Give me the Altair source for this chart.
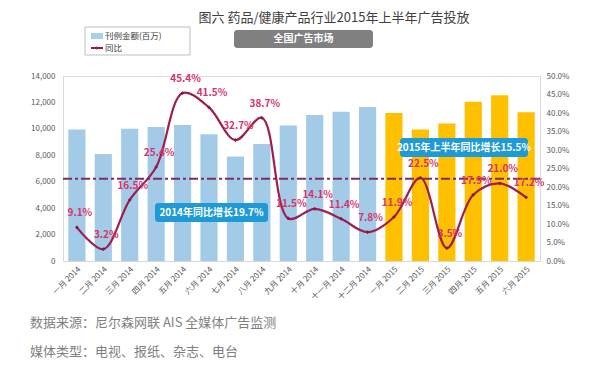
import altair as alt
import pandas as pd

months = ["一月 2014", "二月 2014", "三月 2014", "四月 2014", "五月 2014", "六月 2014",
          "七月 2014", "八月 2014", "九月 2014", "十月 2014", "十一月 2014", "十二月 2014",
          "一月 2015", "二月 2015", "三月 2015", "四月 2015", "五月 2015", "六月 2015"]
year = ["2014"] * 12 + ["2015"] * 6
amount = [9950, 8100, 10000, 10150, 10300, 9600, 7900, 8850, 10250, 11050, 11300, 11650,
          11200, 9950, 10400, 12050, 12550, 11250]
yoy = [0.091, 0.032, 0.165, 0.254, 0.454, 0.415, 0.327, 0.387, 0.115, 0.141, 0.114, 0.078,
       0.119, 0.225, 0.035, 0.179, 0.210, 0.172]
yoy_labels = ["9.1%", "3.2%", "16.5%", "25.4%", "45.4%", "41.5%", "32.7%", "38.7%", "11.5%",
              "14.1%", "11.4%", "7.8%", "11.9%", "22.5%", "3.5%", "17.9%", "21.0%", "17.2%"]
ref_level = 0.222

df = pd.DataFrame({"month": months, "year": year, "amount": amount, "yoy": yoy, "label": yoy_labels})
one = pd.DataFrame({"a": [0]})

FONT = "Noto Sans CJK SC"
xenc = alt.X("month:N", sort=months, title=None,
             scale=alt.Scale(paddingInner=0.35, paddingOuter=0.2),
             axis=alt.Axis(labelAngle=-45, labelFontSize=8, labelColor="#595959", ticks=False,
                           domainColor="#D9D9D9", labelFont=FONT, labelPadding=4))

bars = alt.Chart(df).mark_bar().encode(
    x=xenc,
    y=alt.Y("amount:Q", title=None,
            scale=alt.Scale(domain=[0, 14000]),
            axis=alt.Axis(values=list(range(0, 14001, 2000)), grid=False, ticks=False,
                          labelFontSize=8, labelColor="#595959", domainColor="#D9D9D9",
                          labelPadding=8, labelFont=FONT)),
    color=alt.Color("year:N", scale=alt.Scale(domain=["2014", "2015"], range=["#A3CBE8", "#FFC000"]),
                    legend=None),
)

yr = alt.Y("yoy:Q", title=None,
           scale=alt.Scale(domain=[0, 0.5]),
           axis=alt.Axis(orient="right", format=".1%", values=[i * 0.05 for i in range(11)],
                         grid=False, ticks=False, labelFontSize=8, labelColor="#595959",
                         domainColor="#D9D9D9", labelPadding=6, labelFont=FONT))

ref = alt.Chart(pd.DataFrame({"yoy": [ref_level]})).mark_rule(
    color="#7A2E63", strokeWidth=2, strokeDash=[9, 3, 3, 3]).encode(y=yr)

line = alt.Chart(df).mark_line(interpolate="catmull-rom", color="#9E1F4F", strokeWidth=2.2).encode(
    x=xenc, y=yr)
pts = alt.Chart(df).mark_point(shape="diamond", filled=True, size=14, color="#8E1444", opacity=1).encode(
    x=xenc, y=yr)
labels = alt.Chart(df).mark_text(font=FONT, fontSize=10, fontWeight="bold", color="#D6336C",
                                 dy=-14, dx=3).encode(x=xenc, y=yr, text="label:N")

right = alt.layer(ref, line, pts, labels)

def rect(x, x2, y, y2, **kw):
    return alt.Chart(one).mark_rect(**kw).encode(
        x=alt.value(x), x2=alt.value(x2), y=alt.value(y), y2=alt.value(y2))

def txt(x, y, s, **kw):
    return alt.Chart(one).mark_text(text=s, font=FONT, **kw).encode(x=alt.value(x), y=alt.value(y))

annots = [
    txt(271, -58, "图六 药品/健康产品行业2015年上半年广告投放", fontSize=13, color="#404040"),
    rect(22, 127, -49, -21, fill="white", stroke="#BFBFBF", strokeWidth=1),
    rect(28, 40, -43, -37, fill="#A9CFEA"),
    txt(42, -40, "刊例金额(百万)", fontSize=8.5, color="#404040", align="left"),
    alt.Chart(one).mark_rule(color="#A0174B", strokeWidth=2).encode(
        x=alt.value(28), x2=alt.value(40), y=alt.value(-28)),
    alt.Chart(one).mark_point(shape="diamond", filled=True, size=14, color="#A0174B", opacity=1).encode(
        x=alt.value(34), y=alt.value(-28)),
    txt(42, -28, "同比", fontSize=8.5, color="#404040", align="left"),
    rect(171, 310, -46, -28, fill="#808080", cornerRadius=3),
    txt(240.5, -37, "全国广告市场", fontSize=10, fontWeight="bold", color="white"),
    rect(92, 205, 127, 146, fill="#1E9AD6", cornerRadius=3),
    txt(148.5, 136.5, "2014年同比增长19.7%", fontSize=10, fontWeight="bold", color="white"),
    rect(337, 465, 62, 81, fill="#1E9AD6", cornerRadius=3),
    txt(401, 71.5, "2015年上半年同比增长15.5%", fontSize=10, fontWeight="bold", color="white"),
    txt(-33, 247, "数据来源：尼尔森网联 AIS 全媒体广告监测", fontSize=13, color="#7F7F7F", align="left"),
    txt(-33, 276, "媒体类型：电视、报纸、杂志、电台", fontSize=13, color="#7F7F7F", align="left"),
]

chart = alt.layer(bars, right).resolve_scale(y="independent", color="independent")
chart = alt.layer(chart, *annots).properties(
    width=477, height=185,
    autosize=alt.AutoSizeParams(type="none"),
    padding={"left": 55, "top": 68, "right": 66, "bottom": 102},
).configure_view(stroke=None).configure(background="white")

chart.save("out.html", embed_options={"renderer": "svg", "actions": False})
